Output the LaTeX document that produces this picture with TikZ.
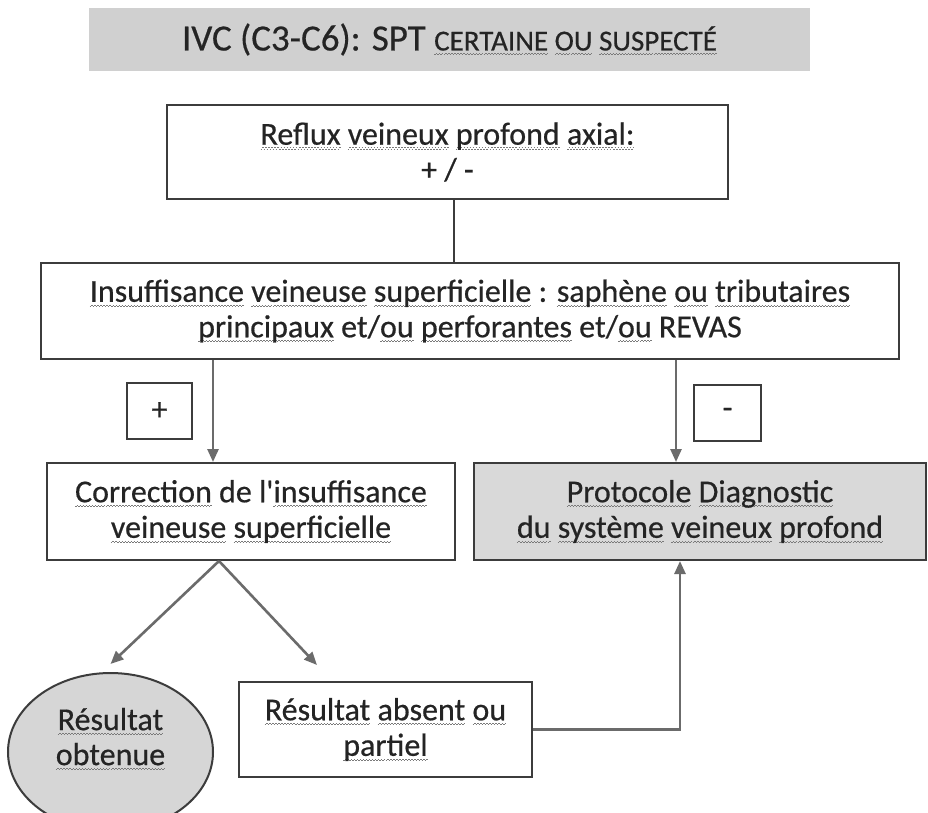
\documentclass[tikz,border=0pt]{standalone}
\usepackage{fontspec}
\setmainfont{Carlito}[FakeBold=0.5]
\usetikzlibrary{arrows.meta,shapes.geometric}
\definecolor{boxgray}{HTML}{D9D9D9}
\definecolor{titlegray}{HTML}{D0D0D0}
\definecolor{ellgray}{HTML}{D6D6D6}
\definecolor{arrgray}{HTML}{6B6B6B}
\definecolor{linecol}{HTML}{3C3C3C}
\definecolor{wavecol}{HTML}{7A7A7A}
\definecolor{txt}{HTML}{242424}
\newbox\sqbox
\newcommand\wavebit{\hbox{\vrule width 1.5pt height 1pt depth 0pt\raise1.2pt\hbox{\vrule width 1.5pt height 1pt depth 0pt}}}
\newcommand\sq[1]{\setbox\sqbox\hbox{#1}\leavevmode\rlap{\lower5pt\hbox to\wd\sqbox{\color{wavecol}\xleaders\wavebit\hfill}}\box\sqbox}
\begin{document}
\begin{tikzpicture}[x=1pt,y=-1pt,
  every node/.style={font=\fontsize{32}{35.5}\selectfont, text=txt, align=center, inner sep=0pt},
  framebox/.style={draw=linecol, line width=2pt, fill=white},
  arr/.style={draw=arrgray, line width=2.6pt, -{Triangle[length=13pt,width=11pt]}},
  plain/.style={draw=linecol, line width=2pt}]
\useasboundingbox (0,0) rectangle (928,812);
\fill[white] (0,0) rectangle (928,812);

\node[fill=titlegray, minimum width=721, minimum height=63] (title) at (449.5,39.5)
  {\fontsize{37}{40}\selectfont IVC (C3-C6): SPT {\fontsize{29}{30}\selectfont\sq{CERTAINE} \sq{OU} \sq{SUSPECTÉ}}};

\node[framebox, minimum width=561, minimum height=94] (box1) at (447.5,152)
  {\sq{Reflux} \sq{veineux} \sq{profond} \sq{axial:}\\+ / -};

\node[framebox, minimum width=858, minimum height=96] (box2) at (470,311)
  {\sq{Insuffisance} \sq{veineuse} \sq{superficielle} : \sq{saphène} \sq{ou} \sq{tributaires}\\
   \sq{principaux} et/\sq{ou} \sq{perforantes} et/\sq{ou} REVAS};

\node[framebox, minimum width=65, minimum height=56] (plus) at (159.5,411) {+};
\node[framebox, minimum width=67, minimum height=56] (minus) at (727.5,413) {-};

\node[framebox, minimum width=408, minimum height=97] (box3) at (251,511.5)
  {\sq{Correction} de l\textquotesingle\sq{insuffisance}\\\sq{veineuse} \sq{superficielle}};

\node[framebox, fill=boxgray, minimum width=452, minimum height=97] (box4) at (700,511.5)
  {\sq{Protocole} \sq{Diagnostic}\\\sq{du} \sq{système} \sq{veineux} \sq{profond}};

\node[framebox, minimum width=293, minimum height=95] (box5) at (385.5,729.5)
  {\sq{Résultat} \sq{absent} \sq{ou}\\\sq{partiel}};

\node[draw=linecol, line width=2pt, fill=ellgray, ellipse, minimum width=205, minimum height=158,
  label={[yshift=13pt, font=\fontsize{32}{35}\selectfont, text=txt, align=center]center:\sq{Résultat}\\\sq{obtenue}}]
  (ell) at (110.5,752) {};

\coordinate (xa) at (454,0);
\coordinate (xb) at (213,0);
\coordinate (xc) at (676,0);
\coordinate (xd) at (219,0);
\coordinate (xe) at (680,0);

\draw[plain] (box1.south -| xa) -- (box2.north -| xa);
\draw[arr] (box2.south -| xb) -- (box3.north -| xb);
\draw[arr] (box2.south -| xc) -- (box4.north -| xc);
\coordinate (apex) at (box3.south -| xd);
\draw[arr] (apex) -- ([yshift=8pt]ell.north);
\draw[arr] (apex) -- ([xshift=-68.5pt,yshift=16pt]box5.north);
\draw[arr] (box5.east) -| (box4.south -| xe);
\end{tikzpicture}
\end{document}
